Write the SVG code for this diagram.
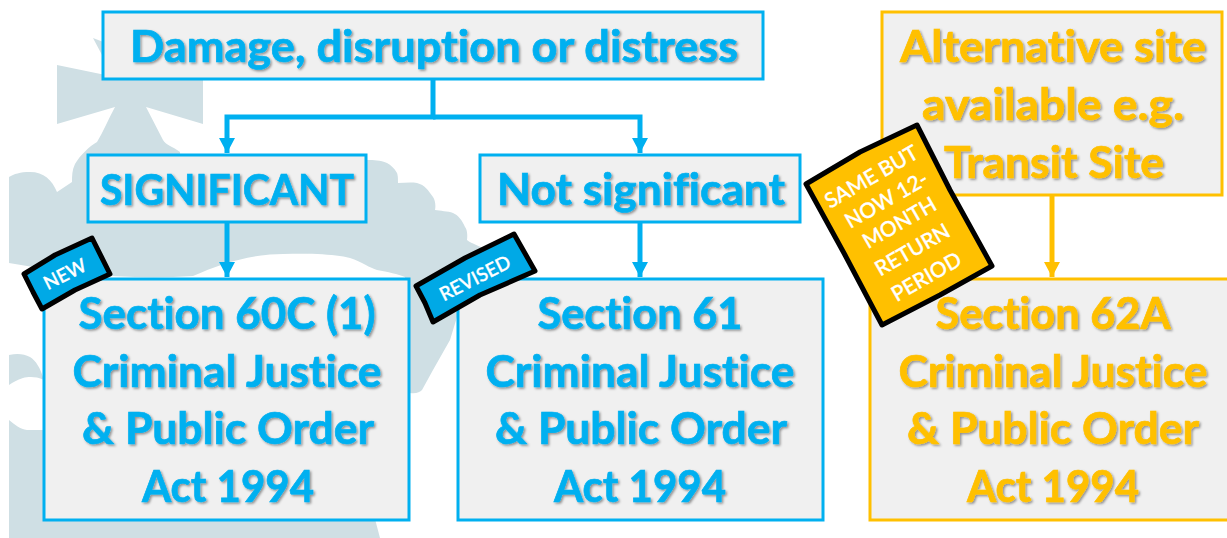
<svg xmlns="http://www.w3.org/2000/svg" width="1227" height="538" viewBox="0 0 1227 538">
<style>
.box{fill:#f0f0f0;stroke-width:3}
.b{stroke:#00b0f0}.y{stroke:#ffc000}
.t{font-family:Lato,"Liberation Sans",sans-serif;font-weight:700;font-size:44px;text-anchor:middle;filter:url(#sh);font-variant-ligatures:none;stroke-width:0.7;paint-order:stroke}
.tb{fill:#00b0f0;stroke:#00b0f0}.ty{fill:#ffc000;stroke:#ffc000}
.tag{stroke:#000;stroke-width:5;stroke-linejoin:round}
.w{font-family:Lato,"Liberation Sans",sans-serif;font-weight:500;font-size:21px;fill:#fff;stroke:#fff;stroke-width:0.35;text-anchor:middle;font-variant-ligatures:none}
.c{fill:none;stroke-width:5}
</style>
<defs>
<filter id="sh" x="-5%" y="-20%" width="110%" height="140%"><feGaussianBlur in="SourceGraphic" stdDeviation="0.45" result="s"/><feDropShadow in="s" dx="1.5" dy="1.5" stdDeviation="1" flood-color="#000" flood-opacity="0.4"/></filter>
<marker id="ab" markerUnits="userSpaceOnUse" markerWidth="16" markerHeight="16" refX="15" refY="8" orient="auto"><path d="M0 0L15 8L0 16Z" fill="#00b0f0"/></marker>
<marker id="ay" markerUnits="userSpaceOnUse" markerWidth="16" markerHeight="16" refX="15" refY="8" orient="auto"><path d="M0 0L15 8L0 16Z" fill="#ffc000"/></marker>
</defs>
<path id="crown" fill="#cfdfe4" d="M93 38L102 55L120 78L57 65L57 124L115 107C108 120 103 132 97 142C90 146 80 155 75 164C72 170 72 176 72 182L57 192C52 180 44 172 30 172C20 172 14 174 9 177L9 263C70 274 130 280 193 276C220 264 250 254 283 254C310 253 335 254 350 258C362 262 370 268 377 270C388 272 398 274 405 277L410 393C416 394 420 392 422 390L433 370L450 340L457 317L487 250C480 246 472 244 467 240C468 232 466 228 465 227C462 220 458 215 453 213C448 211 440 211 435 210C436 205 435 200 433 197C428 190 425 185 417 183C410 182 404 183 398 183C398 178 398 176 397 173C394 168 391 165 387 163C380 160 374 160 367 160L180 160L180 152C172 146 166 145 163 140L146 107L203 124L203 80L150 60L93 38Z"/>
<path fill="#cfdfe4" d="M9 355C18 353 24 354 30 357C36 361 40 367 44 380C35 376 28 377 23 378C17 380 13 382 9 385ZM9 420C15 425 20 429 27 430L46 430L46 519L375 519L380 538L9 538Z"/>
<g id="connectors">
<path class="c b" d="M433 79V117H227V153" marker-end="url(#ab)"/>
<path class="c b" d="M433 117H640V153" marker-end="url(#ab)"/>
<path class="c b" d="M227 222V277" marker-end="url(#ab)"/>
<path class="c b" d="M640 222V277" marker-end="url(#ab)"/>
<path class="c y" d="M1052 195V277" marker-end="url(#ay)"/>
</g>
<g id="n-damage"><rect class="box b" x="103" y="12" width="660" height="67"/><text class="t tb" x="434" y="62" textLength="608" lengthAdjust="spacingAndGlyphs">Damage, disruption or distress</text></g>
<g id="n-significant"><rect class="box b" x="88" y="155" width="278" height="67"/><text class="t tb" x="227" y="205" textLength="254" lengthAdjust="spacingAndGlyphs" style="font-size:42px">SIGNIFICANT</text></g>
<g id="n-notsig"><rect class="box b" x="480" y="155" width="320" height="67"/><text class="t tb" x="641" y="205" textLength="288" lengthAdjust="spacingAndGlyphs">Not significant</text></g>
<g id="n-alt"><rect class="box y" x="882" y="12" width="340" height="183"/><text class="t ty" x="1053" y="62" textLength="306" lengthAdjust="spacingAndGlyphs">Alternative site</text><text class="t ty" x="1053" y="120" textLength="262" lengthAdjust="spacingAndGlyphs">available e.g.</text><text class="t ty" x="1054" y="178" textLength="220" lengthAdjust="spacingAndGlyphs">Transit Site</text></g>
<g id="n-s60"><rect class="box b" x="44" y="279" width="365" height="241"/><text class="t tb" x="227" y="329" textLength="297" lengthAdjust="spacingAndGlyphs">Section 60C (1)</text><text class="t tb" x="227" y="387" textLength="309" lengthAdjust="spacingAndGlyphs">Criminal Justice</text><text class="t tb" x="228" y="444" textLength="292" lengthAdjust="spacingAndGlyphs">&amp; Public Order</text><text class="t tb" x="228" y="502" textLength="172" lengthAdjust="spacingAndGlyphs">Act 1994</text></g>
<g id="n-s61"><rect class="box b" x="458" y="279" width="365" height="241"/><text class="t tb" x="640" y="329" textLength="205" lengthAdjust="spacingAndGlyphs">Section 61</text><text class="t tb" x="640" y="387" textLength="309" lengthAdjust="spacingAndGlyphs">Criminal Justice</text><text class="t tb" x="641" y="444" textLength="292" lengthAdjust="spacingAndGlyphs">&amp; Public Order</text><text class="t tb" x="640" y="502" textLength="172" lengthAdjust="spacingAndGlyphs">Act 1994</text></g>
<g id="n-s62"><rect class="box y" x="870" y="279" width="360" height="241"/><text class="t ty" x="1053" y="329" textLength="235" lengthAdjust="spacingAndGlyphs">Section 62A</text><text class="t ty" x="1053" y="387" textLength="309" lengthAdjust="spacingAndGlyphs">Criminal Justice</text><text class="t ty" x="1053" y="444" textLength="292" lengthAdjust="spacingAndGlyphs">&amp; Public Order</text><text class="t ty" x="1053" y="502" textLength="172" lengthAdjust="spacingAndGlyphs">Act 1994</text></g>
<g id="tag-new"><path class="tag" fill="#00a9e6" d="M24 274L55 255L92 238L110 274L75 290L42 309L33 292Z"/><text class="w" transform="translate(68 280) rotate(-27)" style="font-size:19px">NEW</text></g>
<g id="tag-revised"><path class="tag" fill="#00a9e6" d="M416 286L465 258L514 234L535 271L480 295L433 322L425 303Z"/><text class="w" transform="translate(478 284) rotate(-27)" style="font-size:19px">REVISED</text></g>
<g id="tag-same"><path class="tag" fill="#ffc000" d="M806 184L860 152L917 125L950 190L992 266L940 295L882 325L845 255Z"/>
<text class="w" transform="translate(875 183) rotate(-30)">SAME BUT</text><text class="w" transform="translate(890 206) rotate(-30)">NOW 12-</text><text class="w" transform="translate(903 229) rotate(-30)">MONTH</text><text class="w" transform="translate(916 256) rotate(-30)">RETURN</text><text class="w" transform="translate(930 283) rotate(-30)">PERIOD</text></g>
</svg>
